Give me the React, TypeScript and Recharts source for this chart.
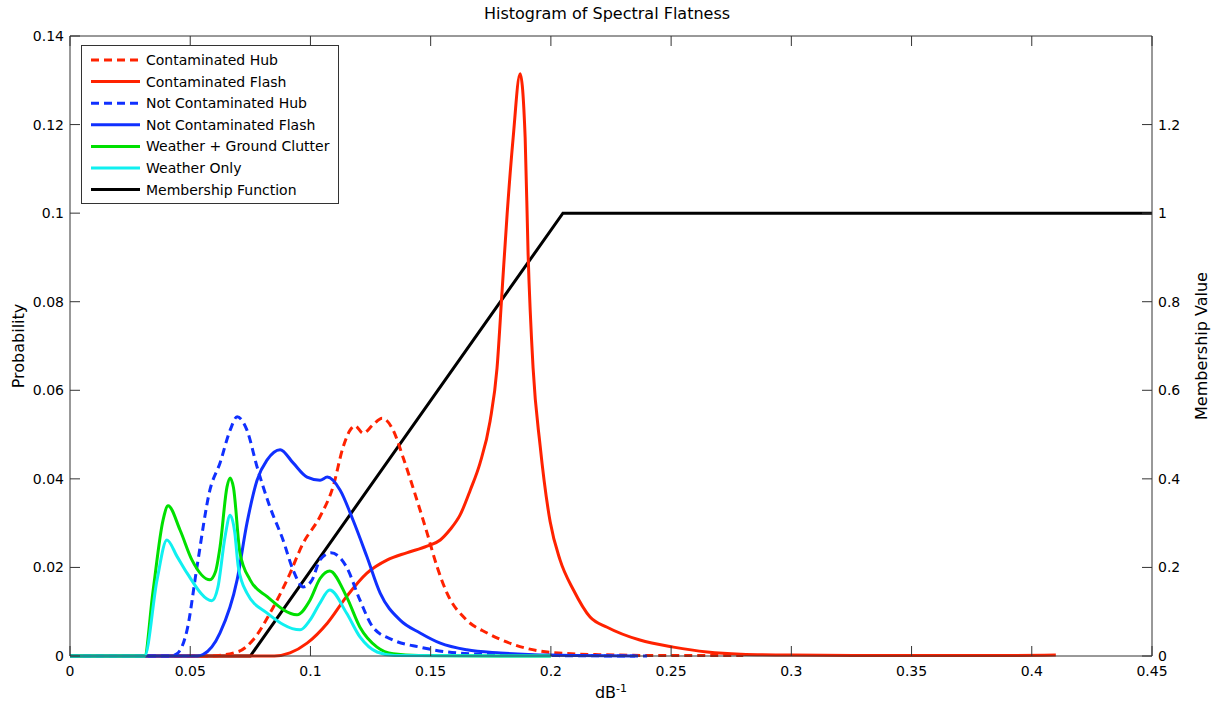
import { LineChart, Line, XAxis, YAxis, ReferenceLine } from 'recharts'

// x (dB^-1) / probability pairs
const contaminatedHub: [number, number][] = [
  [0, 0], [0.058, 0], [0.07, 0.001], [0.0761, 0.0036], [0.0832, 0.0097], [0.0903, 0.0172],
  [0.097, 0.0255], [0.104, 0.0315], [0.1094, 0.0382], [0.1136, 0.0472], [0.1165, 0.051],
  [0.1185, 0.052], [0.1219, 0.0503], [0.126, 0.0522], [0.1298, 0.0537], [0.1344, 0.051],
  [0.1385, 0.0449], [0.1443, 0.0352], [0.1485, 0.0278], [0.1527, 0.0201], [0.1568, 0.0142],
  [0.165, 0.0081], [0.1735, 0.0052], [0.185, 0.0025], [0.2, 0.0008], [0.22, 0.0003],
  [0.25, 0.0001], [0.28, 0.0001],
]

const contaminatedFlash: [number, number][] = [
  [0, 0], [0.085, 0], [0.0915, 0.0007], [0.0986, 0.0029], [0.107, 0.0074], [0.115, 0.0134],
  [0.1235, 0.0187], [0.132, 0.0217], [0.14, 0.0233], [0.1485, 0.0248], [0.154, 0.0262],
  [0.158, 0.0285], [0.1622, 0.0318], [0.1665, 0.0375], [0.1705, 0.0435], [0.1747, 0.053],
  [0.1776, 0.065], [0.1797, 0.0824], [0.1818, 0.0998], [0.1843, 0.117], [0.1872, 0.1315],
  [0.1893, 0.117], [0.1905, 0.0912], [0.1926, 0.065], [0.1955, 0.0476], [0.1997, 0.0303],
  [0.2038, 0.0217], [0.2094, 0.0149], [0.2163, 0.0088], [0.2234, 0.0065], [0.237, 0.0036],
  [0.251, 0.002], [0.265, 0.0009], [0.279, 0.0004], [0.3, 0.0002], [0.35, 0.0001],
  [0.39, 0.0001], [0.41, 0.0002],
]

const notContaminatedHub: [number, number][] = [
  [0, 0], [0.042, 0], [0.0445, 0.0005], [0.0487, 0.0059], [0.0528, 0.0201], [0.0582, 0.0375],
  [0.0624, 0.0436], [0.0666, 0.051], [0.0695, 0.054], [0.0736, 0.051], [0.0778, 0.0427],
  [0.0832, 0.0336], [0.0886, 0.0262], [0.0928, 0.0194], [0.097, 0.0156], [0.1005, 0.017],
  [0.104, 0.0217], [0.1085, 0.0233], [0.115, 0.0201], [0.1206, 0.0126], [0.126, 0.0065],
  [0.1344, 0.0036], [0.1456, 0.002], [0.151, 0.0014], [0.17, 0.0004], [0.2, 0.0001], [0.24, 0],
]

const notContaminatedFlash: [number, number][] = [
  [0, 0], [0.053, 0], [0.0553, 0.0003], [0.0624, 0.0052], [0.0695, 0.0172], [0.0736, 0.03],
  [0.0778, 0.0397], [0.082, 0.0443], [0.0874, 0.0466], [0.0928, 0.0436], [0.0986, 0.0404],
  [0.104, 0.0397], [0.107, 0.0404], [0.1123, 0.0375], [0.1177, 0.0307], [0.1235, 0.0224],
  [0.129, 0.0142], [0.1373, 0.0081], [0.1456, 0.0052], [0.154, 0.0029], [0.165, 0.0014],
  [0.179, 0.0007], [0.2, 0.0002], [0.235, 0],
]

const weatherGround: [number, number][] = [
  [0, 0], [0.031, 0], [0.0345, 0.0145], [0.0387, 0.0307], [0.0408, 0.0339], [0.0458, 0.0284],
  [0.0507, 0.0217], [0.0582, 0.0172], [0.0605, 0.019], [0.0624, 0.0246], [0.0653, 0.0382],
  [0.0666, 0.0402], [0.068, 0.038], [0.0707, 0.0232], [0.0749, 0.0172], [0.082, 0.0134],
  [0.0944, 0.0093], [0.0998, 0.0126], [0.104, 0.0175], [0.108, 0.0192], [0.115, 0.0134],
  [0.1206, 0.0065], [0.1277, 0.002], [0.1344, 0.0005], [0.145, 0.0001], [0.2, 0],
]

const weatherOnly: [number, number][] = [
  [0, 0], [0.031, 0], [0.0362, 0.0172], [0.0403, 0.0262], [0.0445, 0.0225], [0.0487, 0.0187],
  [0.059, 0.0125], [0.0615, 0.0155], [0.0645, 0.027], [0.0666, 0.0318], [0.0685, 0.028],
  [0.07, 0.0201], [0.0736, 0.0142], [0.082, 0.0097], [0.0957, 0.0059], [0.0998, 0.0081],
  [0.104, 0.012], [0.108, 0.0149], [0.115, 0.0097], [0.1206, 0.0043], [0.1277, 0.0009],
  [0.135, 0.0001], [0.2, 0],
]

// membership value (right axis)
const membership: [number, number][] = [[0, 0], [0.075, 0], [0.205, 1], [0.45, 1]]

const xTicks = [0, 0.05, 0.1, 0.15, 0.2, 0.25, 0.3, 0.35, 0.4, 0.45]
const leftTicks = [0, 0.02, 0.04, 0.06, 0.08, 0.1, 0.12, 0.14]
const rightTicks = [0, 0.2, 0.4, 0.6, 0.8, 1, 1.2]

const SERIES = [
  { name: 'Contaminated Hub', data: contaminatedHub, color: '#ff2200', dash: '8 5' },
  { name: 'Contaminated Flash', data: contaminatedFlash, color: '#ff2200', dash: undefined },
  { name: 'Not Contaminated Hub', data: notContaminatedHub, color: '#1030ff', dash: '8 5' },
  { name: 'Not Contaminated Flash', data: notContaminatedFlash, color: '#1030ff', dash: undefined },
  { name: 'Weather + Ground Clutter', data: weatherGround, color: '#00e000', dash: undefined },
  { name: 'Weather Only', data: weatherOnly, color: '#10f0f0', dash: undefined },
]

const W = 1214
const H = 711
const TOP = 36
const BOTTOM = 55
const LEFT_W = 70
const RIGHT_W = 62
const PLOT_H = H - TOP - BOTTOM
const TICK = 10
const FONT = '"DejaVu Sans", Arial, sans-serif'
const AXIS = '#333'

const fmt = (v: number) => String(parseFloat(v.toFixed(4)))
const toPts = (d: [number, number][]) => d.map(([x, y]) => ({ x, y }))

const XTick = (p: any) => {
  const { x, y, payload } = p
  return (
    <g>
      <line x1={x} x2={x} y1={y} y2={y - TICK} stroke={AXIS} />
      <line x1={x} x2={x} y1={y - PLOT_H} y2={y - PLOT_H + TICK} stroke={AXIS} />
      <text x={x} y={y + 20} textAnchor="middle" fontSize={14} fontFamily={FONT} fill="#000">
        {fmt(payload.value)}
      </text>
    </g>
  )
}

const LeftTick = (p: any) => {
  const { x, y, payload } = p
  return (
    <g>
      <line x1={x} x2={x + TICK} y1={y} y2={y} stroke={AXIS} />
      <text x={x - 6} y={y + 5} textAnchor="end" fontSize={14} fontFamily={FONT} fill="#000">
        {fmt(payload.value)}
      </text>
    </g>
  )
}

const RightTick = (p: any) => {
  const { x, y, payload } = p
  return (
    <g>
      <line x1={x} x2={x - TICK} y1={y} y2={y} stroke={AXIS} />
      <text x={x + 6} y={y + 5} textAnchor="start" fontSize={14} fontFamily={FONT} fill="#000">
        {fmt(payload.value)}
      </text>
    </g>
  )
}

const LEGEND_ROWS = [
  ...SERIES.map(s => ({ name: s.name, color: s.color, dash: s.dash })),
  { name: 'Membership Function', color: '#000', dash: undefined },
]

function LegendBox() {
  return (
    <svg width={258} height={159} style={{ position: 'absolute', left: 81, top: 45 }}>
      <rect x={0.5} y={0.5} width={257} height={158} fill="#fff" stroke={AXIS} />
      {LEGEND_ROWS.map((r, i) => {
        const cy = 15 + i * 21.6
        return (
          <g key={r.name}>
            <line x1={10} x2={59} y1={cy} y2={cy} stroke={r.color} strokeWidth={3}
              strokeDasharray={r.dash} />
            <text x={65} y={cy + 5} fontSize={14} fontFamily={FONT} fill="#000">{r.name}</text>
          </g>
        )
      })}
    </svg>
  )
}

export default function App() {
  return (
    <div style={{ position: 'absolute', left: 0, top: 0, width: W, height: H, background: '#fff' }}>
      <LineChart width={W} height={H} margin={{ top: TOP, right: 0, bottom: 0, left: 0 }}>
        <XAxis
          dataKey="x"
          type="number"
          domain={[0, 0.45]}
          ticks={xTicks}
          interval={0}
          height={BOTTOM}
          tickSize={0}
          tickMargin={0}
          tick={<XTick />}
          axisLine={{ stroke: AXIS }}
          tickLine={false}
        />
        <YAxis
          yAxisId="left"
          domain={[0, 0.14]}
          ticks={leftTicks}
          interval={0}
          width={LEFT_W}
          tickSize={0}
          tickMargin={0}
          tick={<LeftTick />}
          axisLine={{ stroke: AXIS }}
          tickLine={false}
        />
        <YAxis
          yAxisId="right"
          orientation="right"
          domain={[0, 1.4]}
          ticks={rightTicks}
          interval={0}
          width={RIGHT_W}
          tickSize={0}
          tickMargin={0}
          tick={<RightTick />}
          axisLine={{ stroke: AXIS }}
          tickLine={false}
        />
        <ReferenceLine yAxisId="left" y={0.14} stroke={AXIS} />
        <Line
          yAxisId="right"
          data={toPts(membership)}
          dataKey="y"
          type="linear"
          stroke="#000"
          strokeWidth={3}
          dot={false}
          activeDot={false}
          isAnimationActive={false}
        />
        {SERIES.map(s => (
          <Line
            key={s.name}
            yAxisId="left"
            data={toPts(s.data)}
            dataKey="y"
            name={s.name}
            type="monotone"
            stroke={s.color}
            strokeWidth={3}
            strokeDasharray={s.dash}
            dot={false}
            activeDot={false}
            isAnimationActive={false}
          />
        ))}
      </LineChart>
      <LegendBox />
      <div style={{ position: 'absolute', left: 0, width: W, top: 4, textAlign: 'center', fontFamily: FONT, fontSize: 16 }}>
        Histogram of Spectral Flatness
      </div>
      <div style={{ position: 'absolute', left: 70, width: 1082, top: 682, textAlign: 'center', fontFamily: FONT, fontSize: 16 }}>
        dB<sup style={{ fontSize: 11 }}>-1</sup>
      </div>
      <div style={{ position: 'absolute', left: 18, top: 346, transform: 'translate(-50%, -50%) rotate(-90deg)', whiteSpace: 'nowrap', fontFamily: FONT, fontSize: 16 }}>
        Probability
      </div>
      <div style={{ position: 'absolute', left: 1201, top: 346, transform: 'translate(-50%, -50%) rotate(-90deg)', whiteSpace: 'nowrap', fontFamily: FONT, fontSize: 16 }}>
        Membership Value
      </div>
    </div>
  )
}
